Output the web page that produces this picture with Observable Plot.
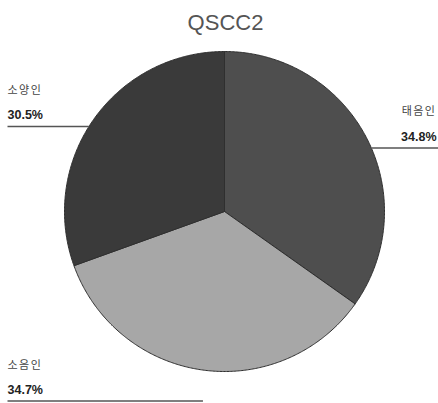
<!DOCTYPE html>
<html><head><meta charset="utf-8">
<script src="https://cdn.jsdelivr.net/npm/d3@7"></script>
<script src="https://cdn.jsdelivr.net/npm/@observablehq/plot@0.6"></script>
<style>body{margin:0;background:#fff}</style>
</head><body><div id="chart"></div>
<script>
// ---- data ----
const categories = ["태음인", "소음인", "소양인"];
const percents = [34.8, 34.7, 30.5];
const percentLabels = ["34.8%", "34.7%", "30.5%"];
const title = "QSCC2";

// ---- layout / style ----
const W = 438, H = 403, cx = 224, cy = 211, R = 160;
const colors = ["#4e4e4e", "#a7a7a7", "#3a3a3a"];
const leaderDy = [10, 31, 7]; // per-category vertical offset of leader from midangle point
const korFont = "'Noto Sans CJK KR', 'Noto Sans', sans-serif";
const numFont = "'Liberation Sans', Arial, sans-serif";

const arcs = d3.pie().sort(null).value(d => d)(percents);
const slicePts = [];
arcs.forEach((a, i) => {
  const k = categories[i];
  slicePts.push({k, x: cx, y: cy});
  const n = Math.max(2, Math.ceil((a.endAngle - a.startAngle) / (Math.PI / 360)));
  for (let j = 0; j <= n; j++) {
    const t = a.startAngle + (a.endAngle - a.startAngle) * j / n;
    slicePts.push({k, x: cx + R * Math.sin(t), y: cy - R * Math.cos(t)});
  }
  slicePts.push({k, x: cx, y: cy});
});

const labels = arcs.map((a, i) => {
  const mid = (a.startAngle + a.endAngle) / 2;
  const ex = cx + R * Math.sin(mid), ey = cy - R * Math.cos(mid);
  const right = Math.sin(mid) > 0;
  const ly = ey + leaderDy[i];
  let xEdge = ex;
  if (Math.abs(ly - cy) < R) xEdge = cx + (right ? 1 : -1) * Math.sqrt(R * R - (ly - cy) ** 2);
  const xOuter = right ? W : 7;
  return {
    name: categories[i], pct: percentLabels[i], right,
    x1: xEdge, x2: xOuter, y: ly,
    tx: right ? W - 2 : 7
  };
});
const rightLabels = labels.filter(d => d.right);
const leftLabels = labels.filter(d => !d.right);

const chart = Plot.plot({
  width: W, height: H, margin: 0,
  x: {domain: [0, W], range: [0, W], axis: null},
  y: {domain: [0, H], range: [0, H], axis: null},
  color: {domain: categories, range: colors},
  style: {background: "#fff"},
  marks: [
    Plot.line(slicePts, {x: "x", y: "y", z: "k", fill: "k", stroke: "#2f2f2f", strokeWidth: 1, curve: "linear"}),
    Plot.link(labels, {x1: "x1", x2: "x2", y1: "y", y2: "y", stroke: "#555", strokeWidth: 1.6}),
    Plot.text(rightLabels, {x: "tx", y: d => d.y - 7, text: "pct", textAnchor: "end",
      lineAnchor: "bottom", fontSize: 12.5, fill: "#222", fontFamily: numFont, fontWeight: "bold"}),
    Plot.text(leftLabels, {x: "tx", y: d => d.y - 7, text: "pct", textAnchor: "start",
      lineAnchor: "bottom", fontSize: 12.5, fill: "#222", fontFamily: numFont, fontWeight: "bold"}),
    Plot.text(rightLabels, {x: "tx", y: d => d.y - 33, text: "name", textAnchor: "end",
      lineAnchor: "bottom", fontSize: 11, fill: "#444", fontFamily: korFont}),
    Plot.text(leftLabels, {x: "tx", y: d => d.y - 32, text: "name", textAnchor: "start",
      lineAnchor: "bottom", fontSize: 11, fill: "#444", fontFamily: korFont}),
    Plot.text([title], {x: cx + 1, y: 29, text: d => d, lineAnchor: "bottom", fontSize: 22,
      fill: "#555", fontFamily: numFont})
  ]
});
chart.querySelectorAll("text").forEach(t => { if (/[가-힣]/.test(t.textContent)) t.setAttribute("letter-spacing", "1.5"); });
document.getElementById("chart").appendChild(chart);
</script>
</body></html>
